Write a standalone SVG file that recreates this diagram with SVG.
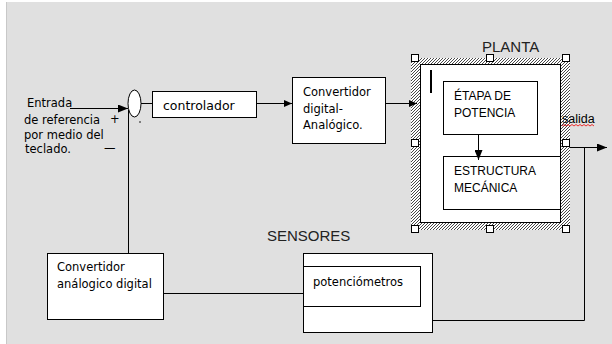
<svg xmlns="http://www.w3.org/2000/svg" width="612" height="344" viewBox="0 0 612 344">
<defs>
<style>
.bx{fill:#fff;stroke:#000;stroke-width:1}
.ln{fill:none;stroke:#000;stroke-width:1}
.t{font-family:"DejaVu Sans",Verdana,sans-serif;font-size:11.5px;fill:#000}
.a{font-family:"Liberation Sans",Arial,sans-serif;font-size:12px;fill:#000}
.big{font-family:"Liberation Sans",Arial,sans-serif;font-size:15px;fill:#222}
.hd{fill:#fff;stroke:#000;stroke-width:1}
</style>
<pattern id="hatch" patternUnits="userSpaceOnUse" width="3" height="3">
<rect width="3" height="3" fill="#fff"/>
<path d="M-1,1 L1,-1 M0,3 L3,0 M2,4 L4,2" stroke="#333" stroke-width="0.9"/>
</pattern>
<marker id="ar" markerUnits="userSpaceOnUse" markerWidth="10" markerHeight="8" refX="10" refY="4" orient="auto"><path d="M0,0 L10,4 L0,8 Z" fill="#000"/></marker>
<marker id="as" markerUnits="userSpaceOnUse" markerWidth="8" markerHeight="7" refX="8" refY="3.5" orient="auto"><path d="M0,0 L8,3.5 L0,7 Z" fill="#000"/></marker>
</defs>
<rect x="0" y="0" width="612" height="344" fill="#fff"/>
<rect x="6" y="2" width="606" height="342" fill="#e0e0e0"/>
<line x1="6.5" y1="2" x2="6.5" y2="344" stroke="#c8c8c8"/>

<g id="entrada">
<text class="t" x="27" y="107">Entrada</text>
<text class="t" x="24" y="124">de referencia</text>
<text class="t" x="110" y="123">+</text>
<text class="t" x="24" y="138.5">por medio del</text>
<text class="t" x="25" y="153">teclado.</text>
<text class="t" x="104" y="152">—</text>
</g>

<g id="sumador">
<ellipse class="bx" cx="134.5" cy="103.5" rx="6.5" ry="13.5"/>
<circle cx="140" cy="122" r="0.8" fill="#000"/>
</g>

<g id="controlador">
<rect class="bx" x="152.5" y="91.5" width="104" height="26"/>
<text class="t" x="163" y="110" style="font-size:12.5px">controlador</text>
</g>

<g id="convertidor-da">
<rect class="bx" x="292.5" y="77.5" width="93" height="66"/>
<text class="t" x="303" y="96">Convertidor</text>
<text class="t" x="303" y="112.5">digital-</text>
<text class="t" x="303" y="129">Analógico.</text>
</g>

<g id="planta">
<text class="big" x="482" y="52">PLANTA</text>
<rect x="411" y="58" width="159" height="172" fill="url(#hatch)"/>
<rect class="bx" x="420.5" y="64.5" width="140" height="158"/>
<rect x="430" y="70" width="2" height="23" fill="#000"/>
<rect class="hd" x="411.5" y="54.5" width="7" height="7"/>
<rect class="hd" x="486.5" y="54.5" width="7" height="7"/>
<rect class="hd" x="562.5" y="54.5" width="7" height="7"/>
<rect class="hd" x="411.5" y="139.5" width="7" height="7"/>
<rect class="hd" x="562.5" y="139.5" width="7" height="7"/>
<rect class="hd" x="411.5" y="225.5" width="7" height="7"/>
<rect class="hd" x="486.5" y="225.5" width="7" height="7"/>
<rect class="hd" x="562.5" y="225.5" width="7" height="7"/>
</g>

<g id="etapa">
<rect class="bx" x="443.5" y="81.5" width="94" height="53"/>
<text class="a" x="454" y="100">ÉTAPA DE</text>
<text class="a" x="454" y="117">POTENCIA</text>
</g>

<g id="estructura">
<rect class="bx" x="443.5" y="156.5" width="117" height="53"/>
<text class="a" x="454" y="175">ESTRUCTURA</text>
<text class="a" x="454" y="192">MECÁNICA</text>
</g>

<g id="salida">
<text class="a" x="562" y="123" style="font-size:12.5px">salida</text>
<path d="M562,126 l2,-1.5 l2,1.5 l2,-1.5 l2,1.5 l2,-1.5 l2,1.5 l2,-1.5 l2,1.5 l2,-1.5 l2,1.5 l2,-1.5 l2,1.5 l2,-1.5 l2,1.5 l2,-1.5 l2,1.5" fill="none" stroke="#e00" stroke-width="0.8"/>
</g>

<g id="sensores">
<text class="big" x="267" y="241">SENSORES</text>
<rect class="bx" x="303.5" y="253.5" width="129" height="79"/>
<rect class="bx" x="303.5" y="266.5" width="117" height="40"/>
<text class="t" x="313" y="286">potenciómetros</text>
</g>

<g id="convertidor-ad">
<rect class="bx" x="47.5" y="253.5" width="116" height="66"/>
<text class="t" x="57" y="271">Convertidor</text>
<text class="t" x="57" y="287.5">análogico digital</text>
</g>

<g id="connectors">
<path class="ln" d="M70,108.5 H128" marker-end="url(#ar)"/>
<path class="ln" d="M128.5,110 V253"/>
<path class="ln" d="M141,103.5 H152"/>
<path class="ln" d="M257,103.5 H292" marker-end="url(#as)"/>
<path class="ln" d="M386,103.5 H417" marker-end="url(#as)"/>
<path class="ln" d="M478.5,135 V160" marker-end="url(#ar)"/>
<path class="ln" d="M570,147.5 H607" marker-end="url(#ar)"/>
<path class="ln" d="M584.5,147 V320.5 H432"/>
<path class="ln" d="M164,293.5 H303"/>
</g>
</svg>
